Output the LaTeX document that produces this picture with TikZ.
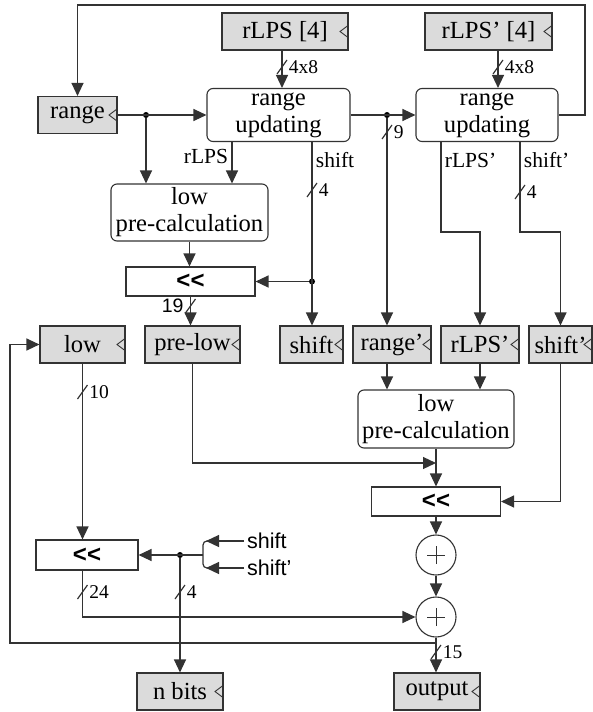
\documentclass[tikz,border=0pt]{standalone}
\usepackage{fontspec}
\setmainfont{Liberation Serif}
\setsansfont{Liberation Sans}
\usetikzlibrary{arrows.meta}

\newcommand{\boxfont}{\fontsize{24.6}{27}\selectfont}
\newcommand{\lblfont}{\fontsize{21.5}{24}\selectfont}
\newcommand{\numfont}{\fontsize{19.5}{21}\selectfont}
% slash across a bus, width written beside it
\newcommand{\bus}[2]{\draw[wire] (#1) ++(-5,7) -- ++(10,-14) (#1) ++(3,0) node[right,font=\numfont]{#2};}
\newcommand{\busleft}[2]{\draw[wire] (#1) ++(-5,7) -- ++(10,-14) (#1) ++(-3,0) node[left,font=\sffamily\numfont]{#2};}

\begin{document}
\begin{tikzpicture}[-,x=1pt,y=-1pt]
        \tikzstyle{point}=[coordinate]
        \tikzstyle{wire}=[draw=black!80, line width=1.2pt]
        \tikzstyle{arr}=[wire, -{Triangle[length=13pt,width=12pt]}]
        \tikzstyle{dot}=[circle, fill=black, inner sep=0pt, minimum size=6pt]
        \tikzstyle{reg}=[draw=black!80, line width=1.1pt, fill=black!14, rectangle, minimum height=37pt, inner sep=0pt, font=\boxfont,
            path picture={\draw[line width=0.9pt] ([yshift=6pt]path picture bounding box.east) -- ([xshift=-8pt]path picture bounding box.east) -- ([yshift=-6pt]path picture bounding box.east);}]
        \tikzstyle{block}=[draw=black!80, line width=1.1pt, rounded corners=6pt, align=center, inner sep=0pt, font=\boxfont]
        \tikzstyle{shl}=[draw=black!80, line width=1.1pt, minimum height=29pt, inner sep=0pt, font=\sffamily\bfseries\fontsize{24}{26}\selectfont]
        \tikzstyle{adder}=[draw=black!80, line width=1.1pt, circle, minimum size=40pt, inner sep=0pt,
            path picture={\draw[line width=0.8pt] ([xshift=-9pt]path picture bounding box.center) -- ([xshift=9pt]path picture bounding box.center)
                                                  ([yshift=-9pt]path picture bounding box.center) -- ([yshift=9pt]path picture bounding box.center);}]
        \useasboundingbox (0,0) rectangle (593,712);
        \node[reg, minimum width=79pt]  (0) at (77.5,115)   {range};
        \node[reg, minimum width=126pt] (1) at (285,31.5)   {rLPS [4]};
        \node[block, minimum width=143pt, minimum height=53pt] (2) at (278.5,115) {range\\updating};
        \node[reg, minimum width=127pt] (3) at (488.5,31.5) {rLPS' [4]};
        \node[block, minimum width=142pt, minimum height=53pt] (4) at (487,115) {range\\updating};
        \node[block, minimum width=157pt, minimum height=57pt] (5) at (189.5,212.5) {low\\pre-calculation};
        \node[shl, minimum width=129pt] (6) at (190.5,281.5) {<{}<};
        \node[reg, minimum width=85pt]  (7) at (82.5,344.5) {low};
        \node[reg, minimum width=95pt]  (8) at (192.5,344.5) {pre-low};
        \node[reg, minimum width=63pt]  (9) at (311.5,344.5) {shift};
        \node[reg, minimum width=78pt]  (10) at (392,344.5) {range'};
        \node[reg, minimum width=78pt]  (11) at (480,344.5) {rLPS'};
        \node[reg, minimum width=63pt]  (12) at (560.5,344.5) {shift'};
        \node[block, minimum width=156pt, minimum height=58pt] (13) at (436,419) {low\\pre-calculation};
        \node[shl, minimum width=129pt] (14) at (436,501.5) {<{}<};
        \node[adder] (15) at (436,555) {};
        \node[adder] (16) at (436,617) {};
        \node[shl, minimum width=102pt, minimum height=30pt] (17) at (87,555) {<{}<};
        \node[reg, minimum width=86pt]  (18) at (180,691.5) {n bits};
        \node[reg, minimum width=86pt]  (19) at (437,691.5) {output};
        \node[anchor=west, inner sep=3pt, font=\sffamily\lblfont] (20) at (244,541) {shift};
        \node[anchor=west, inner sep=3pt, font=\sffamily\lblfont] (21) at (244,568) {shift'};
        \node[dot]   (22) at (146,115) {};
        \node[dot]   (23) at (387,115) {};
        \node[dot]   (24) at (312,281.5) {};
        \node[dot]   (25) at (180,555) {};
        \node[point] (26) at (203,555) {};
        \node[point] (27) at (436,643) {};
        \node[point] (28) at (10,643) {};
        \node[point] (29) at (585,5) {};
        \node[point] (30) at (436,463) {};
        \draw[arr] (4.east) -| (29) -| (0.north);
        \draw[arr] (0.east) -- (2.west);
        \draw[arr] (22) -- (22 |- 5.north);
        \draw[arr] (1.south -| 282,0) -- (2.north -| 282,0);
        \bus{282,67}{4x8}
        \draw[arr] (2.south -| 232,0) -- node[left, pos=0.35, font=\lblfont] {rLPS} (5.north -| 232,0);
        \draw[arr] (2.south -| 312,0) -- node[right, pos=0.1, font=\lblfont] {shift} (9.north -| 312,0);
        \bus{312,190}{4}
        \draw[arr] (24) -- (6.east);
        \draw[arr] (5.south) -- (5.south |- 6.north);
        \draw[arr] (6.south) -- (6.south |- 8.north);
        \busleft{190.5,306}{19}
        \draw[arr] (2.east) -- (4.west);
        \draw[arr] (23) -- (23 |- 10.north);
        \bus{387,132}{9}
        \draw[arr] (3.south -| 498,0) -- (4.north -| 498,0);
        \bus{498,67}{4x8}
        \draw[arr] (4.south -| 441,0) -- node[right, pos=0.2, font=\lblfont] {rLPS'} ++(0,90) -| (11.north);
        \draw[arr] (4.south -| 520,0) -- node[right, pos=0.2, font=\lblfont] {shift'} ++(0,90) -| (12.north);
        \bus{520,192}{4}
        \draw[arr] (23 |- 10.south) -- (23 |- 13.north);
        \draw[arr] (11.south) -- (11.south |- 13.north);
        \draw[arr] (8.south) |- (30);
        \draw[arr] (13.south) -- (14.north);
        \draw[arr] (12.south) |- (14.east);
        \draw[arr] (14.south) -- (15.north);
        \draw[arr] (15) -- (16);
        \draw[arr] (7.south) -- (7.south |- 17.north);
        \bus{82.5,392}{10}
        \draw[arr] (17.south -| 7.south) |- (16.west);
        \bus{82.5,592}{24}
        \draw[arr] (20.west) -- ([xshift=3pt]26 |- 20.west);
        \draw[arr] (21.west) -- ([xshift=3pt]26 |- 21.west);
        \draw[wire, rounded corners=4pt] ([xshift=6pt]26 |- 20.west) -| (26) |- ([xshift=6pt]26 |- 21.west);
        \draw[arr] (26) -- (17.east);
        \draw[arr] (25) -- (25 |- 18.north);
        \bus{180,592}{4}
        \draw[arr] (16.south) -- (16.south |- 19.north);
        \bus{436,652}{15}
        \draw[arr] (27) -- (28) |- (7.west);
    \end{tikzpicture}
\end{document}
